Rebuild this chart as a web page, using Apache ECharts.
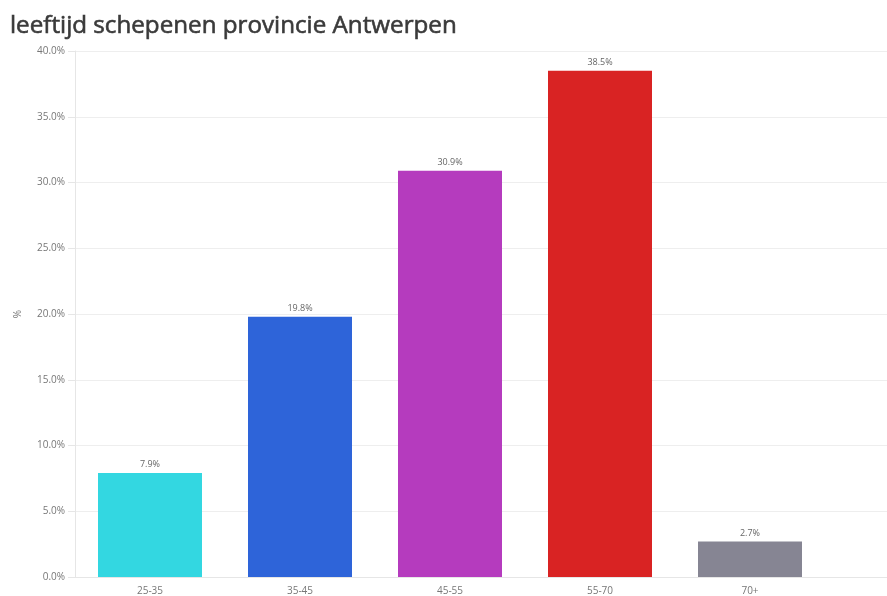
<!DOCTYPE html>
<html>
<head>
<meta charset="utf-8">
<script src="https://cdn.jsdelivr.net/npm/echarts@6/dist/echarts.min.js"></script>
<style>html,body{margin:0;padding:0;background:#fff}#c{width:887px;height:596px}</style>
</head>
<body>
<div id="c"></div>
<script>
const categories = ['25-35', '35-45', '45-55', '55-70', '70+'];
const values = [7.9, 19.8, 30.9, 38.5, 2.7];
const colors = ['#33d7e1', '#2e64d9', '#b53bbe', '#d92323', '#868593'];
const yTicks = [0, 5, 10, 15, 20, 25, 30, 35, 40];

const yMin = yTicks[0], yMax = yTicks[yTicks.length - 1];
const chart = echarts.init(document.getElementById('c'), null, {renderer: 'canvas'});
chart.setOption({
  animation: false,
  title: {
    text: 'leeftijd schepenen provincie Antwerpen',
    left: 5, top: 9,
    textStyle: {fontFamily: 'Open Sans', fontSize: 24.2, fontWeight: 'normal', color: '#3a3a3a',
      textBorderColor: '#3a3a3a', textBorderWidth: 0.6}
  },
  grid: [
    {left: 75, top: 51, bottom: 19, right: 62},
    {left: 75, top: 51, bottom: 19, right: 0}
  ],
  xAxis: [{
    type: 'category',
    gridIndex: 0,
    data: categories,
    axisLine: {show: false},
    axisTick: {show: false},
    axisLabel: {color: '#777', fontFamily: 'Open Sans', fontSize: 10, margin: 9}
  }, {
    type: 'value',
    gridIndex: 1,
    min: 0, max: 1,
    axisLine: {show: true, lineStyle: {color: '#e6e6e6'}},
    axisTick: {show: false},
    axisLabel: {show: false},
    splitLine: {show: false}
  }],
  yAxis: [{
    type: 'value',
    gridIndex: 0,
    min: yMin, max: yMax, interval: 5,
    name: '%',
    nameLocation: 'middle',
    nameGap: 52,
    nameTextStyle: {color: '#777', fontFamily: 'Open Sans', fontSize: 10},
    axisLine: {show: true, lineStyle: {color: '#e6e6e6'}},
    axisTick: {show: true, length: 7, lineStyle: {color: '#e6e6e6'}},
    splitLine: {show: false},
    axisLabel: {color: '#777', fontFamily: 'Open Sans', fontSize: 10, margin: 10,
      formatter: v => v.toFixed(1) + '%'}
  }, {
    type: 'value',
    gridIndex: 1,
    min: yMin, max: yMax, interval: 5,
    axisLine: {show: false},
    axisTick: {show: false},
    axisLabel: {show: false},
    splitLine: {lineStyle: {color: '#eeeeee'}}
  }],
  series: [{
    type: 'bar',
    xAxisIndex: 0, yAxisIndex: 0,
    barWidth: 104,
    z: 3,
    data: values.map((v, i) => ({value: v, itemStyle: {color: colors[i]}})),
    label: {show: true, position: 'top', distance: 4, color: '#666', fontFamily: 'Open Sans', fontSize: 9,
      formatter: p => p.value.toFixed(1) + '%'}
  }]
});
</script>
</body>
</html>
